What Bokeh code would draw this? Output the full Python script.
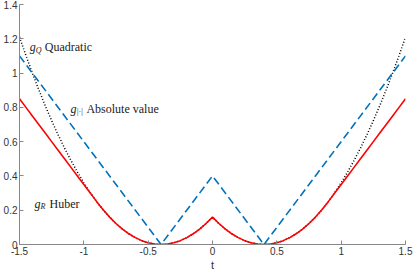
from bokeh.plotting import figure
from bokeh.models import Range1d, FixedTicker
from bokeh.core.properties import value
from bokeh.embed import file_html
from bokeh.resources import INLINE

t = [-1.5, -1.45, -1.4, -1.35, -1.3, -1.25, -1.2, -1.15, -1.1, -1.05, -1.0, -0.95, -0.9, -0.85, -0.8, -0.75,
     -0.7, -0.65, -0.6, -0.55, -0.5, -0.45, -0.4, -0.35, -0.3, -0.25, -0.2, -0.15, -0.1, -0.05, 0.0,
     0.05, 0.1, 0.15, 0.2, 0.25, 0.3, 0.35, 0.4, 0.45, 0.5, 0.55, 0.6, 0.65, 0.7, 0.75,
     0.8, 0.85, 0.9, 0.95, 1.0, 1.05, 1.1, 1.15, 1.2, 1.25, 1.3, 1.35, 1.4, 1.45, 1.5]
quadratic = [1.21, 1.1025, 1.0, 0.9025, 0.81, 0.7225, 0.64, 0.5625, 0.49, 0.4225, 0.36, 0.3025, 0.25, 0.2025, 0.16, 0.1225,
             0.09, 0.0625, 0.04, 0.0225, 0.01, 0.0025, 0.0, 0.0025, 0.01, 0.0225, 0.04, 0.0625, 0.09, 0.1225, 0.16,
             0.1225, 0.09, 0.0625, 0.04, 0.0225, 0.01, 0.0025, 0.0, 0.0025, 0.01, 0.0225, 0.04, 0.0625, 0.09, 0.1225,
             0.16, 0.2025, 0.25, 0.3025, 0.36, 0.4225, 0.49, 0.5625, 0.64, 0.7225, 0.81, 0.9025, 1.0, 1.1025, 1.21]
huber = [0.85, 0.80, 0.75, 0.70, 0.65, 0.60, 0.55, 0.50, 0.45, 0.40, 0.35, 0.30, 0.25, 0.2025, 0.16, 0.1225,
         0.09, 0.0625, 0.04, 0.0225, 0.01, 0.0025, 0.0, 0.0025, 0.01, 0.0225, 0.04, 0.0625, 0.09, 0.1225, 0.16,
         0.1225, 0.09, 0.0625, 0.04, 0.0225, 0.01, 0.0025, 0.0, 0.0025, 0.01, 0.0225, 0.04, 0.0625, 0.09, 0.1225,
         0.16, 0.2025, 0.25, 0.30, 0.35, 0.40, 0.45, 0.50, 0.55, 0.60, 0.65, 0.70, 0.75, 0.80, 0.85]
t_abs = [-1.5, -0.4, 0.0, 0.4, 1.5]
absval = [1.1, 0.0, 0.4, 0.0, 1.1]

x_ticks = [-1.5, -1, -0.5, 0, 0.5, 1, 1.5]
y_ticks = [0, 0.2, 0.4, 0.6, 0.8, 1.0, 1.2, 1.4]

p = figure(width=415, height=273, output_backend="svg", toolbar_location=None,
           x_range=Range1d(-1.5, 1.5), y_range=Range1d(0, 1.4),
           min_border_left=19, min_border_right=10, min_border_top=4, min_border_bottom=29)
p.outline_line_color = None
p.grid.visible = False
p.background_fill_color = "white"

for ax in (p.xaxis[0], p.yaxis[0]):
    ax.axis_line_color = "#888888"
    ax.major_tick_line_color = "#888888"
    ax.major_tick_in = 4
    ax.major_tick_out = 0
    ax.minor_tick_line_color = None
    ax.major_label_text_font = "Liberation Sans"
    ax.major_label_text_font_size = "10px"
    ax.major_label_text_color = "#333333"
    ax.major_label_standoff = 2
p.xaxis.ticker = FixedTicker(ticks=x_ticks)
p.yaxis.ticker = FixedTicker(ticks=y_ticks)
p.xaxis.major_label_overrides = {-1.5: "-1.5", -1: "-1", -0.5: "-0.5", 0: "0", 0.5: "0.5", 1: "1", 1.5: "1.5"}
p.yaxis.major_label_overrides = {0: "0", 0.2: "0.2", 0.4: "0.4", 0.6: "0.6", 0.8: "0.8", 1.0: "1", 1.2: "1.2", 1.4: "1.4"}
p.xaxis.axis_label = "t"
p.xaxis.axis_label_text_font = "Liberation Sans"
p.xaxis.axis_label_text_font_style = "normal"
p.xaxis.axis_label_text_font_size = "11px"
p.xaxis.axis_label_text_color = "#333333"
p.xaxis.axis_label_standoff = 1

p.line(t, quadratic, line_color="black", line_width=1.5, line_dash="1 2")
p.line(t_abs, absval, line_color="#0072BD", line_width=1.6, line_dash="8 4")
p.line(t, huber, line_color="#ff0000", line_width=1.6)

serif = value("Times New Roman")
labels = [(-1.42, 1.15, "Q", "Quadratic", 15), (-1.104, 0.792, "|·|", "Absolute value", 16),
          (-1.383, 0.237, "R", "Huber", 15)]
for lx, ly, sub, name, off in labels:
    p.text([lx], [ly], text=["g"], text_font=serif, text_font_style="italic", text_font_size="12px",
           text_baseline="middle", text_align="left", text_color="#222222")
    p.text([lx], [ly], text=[sub], text_font=serif, text_font_style="italic", text_font_size="8px",
           text_baseline="middle", text_align="left", text_color="#222222", x_offset=6, y_offset=3)
    p.text([lx], [ly], text=[name], text_font=serif, text_font_size="12px",
           text_baseline="middle", text_align="left", text_color="#222222", x_offset=off)

open("out.html", "w").write(file_html(p, INLINE))
